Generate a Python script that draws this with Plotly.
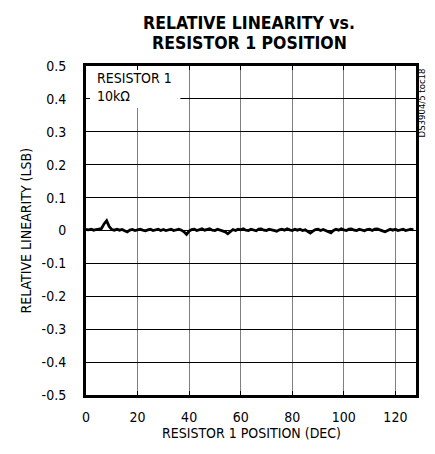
import plotly.graph_objects as go

position = list(range(128))
linearity = [
    0.003, 0.002, 0.004, 0.001, 0.003, 0.004, 0.006, 0.020, 0.030, 0.012,
    0.003, 0.001, 0.004, 0.001, 0.003, -0.001, -0.004, 0.001, 0.003, 0.000,
    0.002, 0.004, 0.001, -0.001, 0.002, 0.004, 0.000, 0.003, 0.004, 0.000,
    0.003, 0.000, 0.003, 0.004, 0.000, 0.003, 0.004, 0.001, -0.004, -0.012,
    -0.002, 0.003, 0.004, 0.000, 0.003, 0.005, 0.001, 0.004, 0.005, 0.001,
    0.000, 0.004, 0.002, -0.001, -0.004, -0.010, -0.002, 0.003, 0.000, 0.004,
    0.002, 0.005, 0.001, 0.000, 0.004, 0.002, -0.001, 0.004, 0.005, 0.001,
    0.000, 0.004, 0.002, -0.001, -0.002, 0.002, 0.004, 0.001, 0.005, 0.002,
    0.000, 0.004, 0.001, 0.004, 0.000, 0.002, -0.002, -0.008, -0.002, 0.003,
    0.004, 0.000, 0.003, -0.001, -0.003, -0.007, 0.000, 0.004, 0.001, 0.005,
    0.002, 0.000, 0.004, 0.005, 0.001, 0.000, 0.004, 0.002, -0.001, 0.003,
    0.004, 0.000, 0.004, 0.005, 0.001, -0.001, -0.004, 0.001, 0.004, 0.001,
    0.004, 0.000, 0.003, 0.004, 0.000, 0.002, 0.004, 0.002,
]

x_ticks = [0, 20, 40, 60, 80, 100, 120]
y_ticks = [0.5, 0.4, 0.3, 0.2, 0.1, 0, -0.1, -0.2, -0.3, -0.4, -0.5]
y_tick_labels = ["0.5", "0.4", "0.3", "0.2", "0.1", "0", "-0.1", "-0.2", "-0.3", "-0.4", "-0.5"]

FONT = "DejaVu Sans Condensed, Liberation Sans Narrow, Roboto, sans-serif"

fig = go.Figure()
fig.add_trace(go.Scatter(
    x=position, y=linearity, mode="lines",
    line=dict(color="black", width=2.8), showlegend=False,
))

fig.add_shape(type="rect", xref="x", yref="y", x0=0, x1=36.6, y0=0.372, y1=0.5,
              fillcolor="white", line=dict(width=0), layer="between")

fig.add_annotation(text="RESISTOR 1<br>10kΩ", xref="x", yref="y", x=3.6, y=0.493,
                   xanchor="left", yanchor="top", align="left", showarrow=False,
                   font=dict(family=FONT, size=14, color="black"))

fig.add_annotation(text="DS3904/5 toc18", xref="paper", yref="paper", x=1.018, y=1.0,
                   xanchor="center", yanchor="top", textangle=-90, showarrow=False,
                   font=dict(family=FONT, size=9.5, color="black"))

fig.add_annotation(text="<b>RELATIVE LINEARITY vs.</b>", xref="paper", yref="paper",
                   x=0.495, y=1.0, yshift=43, xanchor="center", yanchor="middle",
                   showarrow=False, font=dict(family=FONT, size=17.5, color="black"))
fig.add_annotation(text="<b>RESISTOR 1 POSITION</b>", xref="paper", yref="paper",
                   x=0.495, y=1.0, yshift=23, xanchor="center", yanchor="middle",
                   showarrow=False, font=dict(family=FONT, size=17.5, color="black"))

fig.add_annotation(text="RESISTOR 1 POSITION (DEC)", xref="paper", yref="paper",
                   x=0.5, y=0, yshift=-38, xanchor="center", yanchor="middle",
                   showarrow=False, font=dict(family=FONT, size=14, color="black"))
fig.add_annotation(text="RELATIVE LINEARITY (LSB)", xref="paper", yref="paper",
                   x=0, xshift=-61, y=0.5, xanchor="center", yanchor="middle",
                   textangle=-90, showarrow=False,
                   font=dict(family=FONT, size=14, color="black"))

fig.update_layout(
    width=435, height=454,
    margin=dict(l=78, r=27, t=58, b=67),
    paper_bgcolor="white", plot_bgcolor="white",
    font=dict(family=FONT, size=14, color="black"),
)
fig.update_xaxes(
    range=[0, 128], tickvals=x_ticks, ticktext=[str(v) for v in x_ticks],
    showgrid=True, gridcolor="#808080", gridwidth=1,
    showline=True, linecolor="black", linewidth=3, mirror="ticks",
    ticks="inside", ticklen=4, tickcolor="black", zeroline=False,
    automargin=False, ticklabelstandoff=7, tickfont=dict(size=14),
)
fig.update_yaxes(
    range=[-0.5, 0.5], tickvals=y_ticks, ticktext=y_tick_labels,
    showgrid=True, gridcolor="black", gridwidth=1,
    showline=True, linecolor="black", linewidth=3, mirror="ticks",
    ticks="inside", ticklen=4, tickcolor="black", zeroline=False,
    automargin=False, ticklabelstandoff=14, tickfont=dict(size=14),
)

fig.write_html("out.html")
